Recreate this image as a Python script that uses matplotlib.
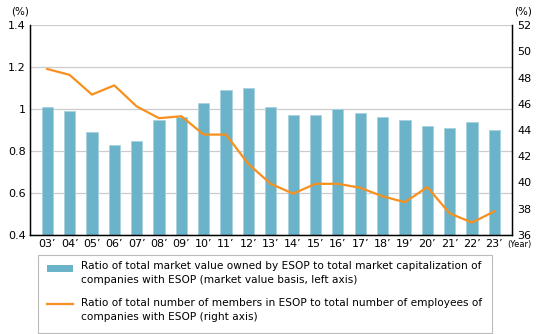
import numpy as np
import matplotlib as mpl
mpl.use('Agg')
import matplotlib.pyplot as plt
from matplotlib.patches import Rectangle
from matplotlib.lines import Line2D

mpl.rcParams.update({'font.size': 8, 'font.family': 'DejaVu Sans'})

years = ["03", "04", "05", "06", "07", "08", "09", "10", "11", "12", "13",
         "14", "15", "16", "17", "18", "19", "20", "21", "22", "23"]
market_value = [1.01, 0.99, 0.89, 0.83, 0.85, 0.95, 0.96, 1.03, 1.09, 1.10, 1.01,
                0.97, 0.97, 1.00, 0.98, 0.96, 0.95, 0.92, 0.91, 0.94, 0.90]
members = [48.65, 48.2, 46.7, 47.4, 45.8, 44.9, 45.05, 43.65, 43.65, 41.4, 39.9,
           39.15, 39.9, 39.9, 39.6, 38.95, 38.5, 39.65, 37.65, 36.95, 37.8]

bar_label = ("Ratio of total market value owned by ESOP to total market capitalization of\n"
             "companies with ESOP (market value basis, left axis)")
line_label = ("Ratio of total number of members in ESOP to total number of employees of\n"
              "companies with ESOP (right axis)")

bar_color = "#6bb3c8"
line_color = "#f7901e"

W, H = 540, 334
fig = plt.figure(figsize=(5.4, 3.34), dpi=100)
ax = fig.add_axes([30/W, 1-235/H, 482/W, 210/H])
x = np.arange(len(years))

ax.bar(x, market_value, width=0.5, color=bar_color, edgecolor="#a9d3df", linewidth=0.6, zorder=2)
ax.set_ylim(0.4, 1.4)
ax.set_yticks([0.4, 0.6, 0.8, 1.0, 1.2, 1.4])
ax.set_yticklabels(["0.4", "0.6", "0.8", "1", "1.2", "1.4"])
ax.set_xlim(-0.77, 20.79)
ax.set_xticks(x)
ax.set_xticklabels([y + "\u2019" for y in years])
ax.grid(axis="y", color="#cccccc", linewidth=0.9, zorder=0)
ax.tick_params(length=0, pad=3)
ax.spines["top"].set_visible(False)
for s in ["left", "bottom", "right"]:
    ax.spines[s].set_linewidth(1.0)

ax2 = ax.twinx()
ax2.plot(x, members, color=line_color, linewidth=1.6, zorder=3)
ax2.set_ylim(36, 52)
ax2.set_yticks(range(36, 53, 2))
ax2.tick_params(length=0, pad=4)
ax2.spines["top"].set_visible(False)

fig.text(20/W, 1-11/H, "(%)", ha="center", va="center", fontsize=7.5)
fig.text(523/W, 1-11/H, "(%)", ha="center", va="center", fontsize=7.5)
fig.text(507/W, 1-244/H, "(Year)", ha="left", va="center", fontsize=6)

# legend drawn by hand so the keys line up with the first text line
fig.patches.append(Rectangle((38/W, 1-333/H), 454/W, 78/H, transform=fig.transFigure,
                             facecolor="white", edgecolor="#bbbbbb", linewidth=0.8))
fig.patches.append(Rectangle((47/W, 1-272/H), 26/W, 7/H, transform=fig.transFigure,
                             facecolor=bar_color, edgecolor="none"))
fig.lines.append(Line2D([47/W, 73/W], [1-304/H, 1-304/H], transform=fig.transFigure,
                        color=line_color, linewidth=1.6))
fig.text(81/W, 1-261/H, bar_label, ha="left", va="top", fontsize=7.6, linespacing=1.5)
fig.text(81/W, 1-298/H, line_label, ha="left", va="top", fontsize=7.6, linespacing=1.5)

plt.savefig("out.png", dpi=100)
